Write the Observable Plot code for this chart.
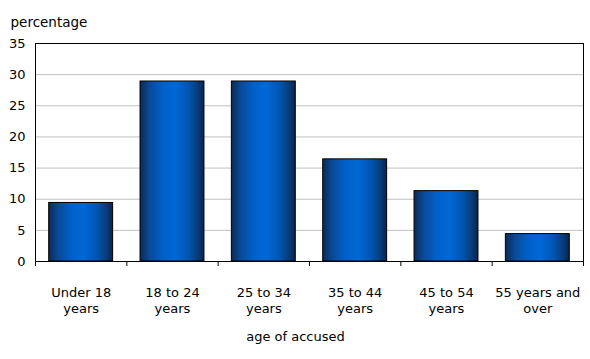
<!DOCTYPE html>
<html>
<head>
<meta charset="utf-8">
<script src="https://cdn.jsdelivr.net/npm/d3@7"></script>
<script src="https://cdn.jsdelivr.net/npm/@observablehq/plot@0.6"></script>
<style>
  html, body { margin: 0; padding: 0; background: #fff; }
</style>
</head>
<body>
<div id="chart"></div>
<script>
const categories = ["Under 18 years", "18 to 24 years", "25 to 34 years", "35 to 44 years", "45 to 54 years", "55 years and over"];
const tickLabels = ["Under 18\nyears", "18 to 24\nyears", "25 to 34\nyears", "35 to 44\nyears", "45 to 54\nyears", "55 years and\nover"];
const values = [9.4, 28.9, 28.9, 16.4, 11.3, 4.4];
const yTicks = [0, 5, 10, 15, 20, 25, 30, 35];
const yTitle = "percentage";
const xTitle = "age of accused";

const data = categories.map((c, i) => ({category: c, i, value: values[i]}));

const gradientDefs = () => {
  const defs = d3.create("svg:defs");
  const g = defs.append("linearGradient").attr("id", "barGrad")
    .attr("x1", 0).attr("x2", 1).attr("y1", 0).attr("y2", 0);
  [[0, "#0b2a55"], [0.15, "#0a4a98"], [0.35, "#0060c8"], [0.55, "#0068d6"], [0.75, "#0056b2"], [0.9, "#083c7c"], [1, "#0b2448"]]
    .forEach(([o, c]) => g.append("stop").attr("offset", o).attr("stop-color", c));
  return defs.node();
};

const chart = Plot.plot({
  width: 590,
  height: 359,
  marginLeft: 35,
  marginRight: 7,
  marginTop: 43,
  marginBottom: 98,
  style: {fontFamily: "DejaVu Sans", fontSize: "13px", color: "#000", background: "#fff"},
  x: {domain: [0, categories.length], axis: null},
  y: {domain: [0, 35], axis: null},
  marks: [
    gradientDefs,
    Plot.gridY(yTicks, {stroke: "#c0c0c0", strokeOpacity: 1}),
    Plot.rectY(data, {x1: d => d.i, x2: d => d.i + 1, y: "value", insetLeft: 13.7, insetRight: 13.7, fill: "url(#barGrad)", stroke: "#000", strokeWidth: 1}),
    Plot.frame({stroke: "#000"}),
    Plot.axisY(yTicks, {tickSize: 0, tickPadding: 10, label: null, fontSize: 13}),
    Plot.axisX(d3.range(categories.length + 1), {tickSize: 5, tickFormat: () => "", label: null}),
    Plot.axisX(d3.range(categories.length).map(i => i + 0.5), {tickSize: 0, tickPadding: 23, tickFormat: v => tickLabels[Math.floor(v)], label: null, lineHeight: 1.3, fontSize: 13}),
    Plot.text([yTitle], {frameAnchor: "top-left", dx: -25, dy: -26, textAnchor: "start", fontSize: 13.5}),
    Plot.text([xTitle], {frameAnchor: "bottom", dx: -14, dy: 79, fontSize: 13})
  ]
});
document.getElementById("chart").appendChild(chart);
</script>
</body>
</html>
